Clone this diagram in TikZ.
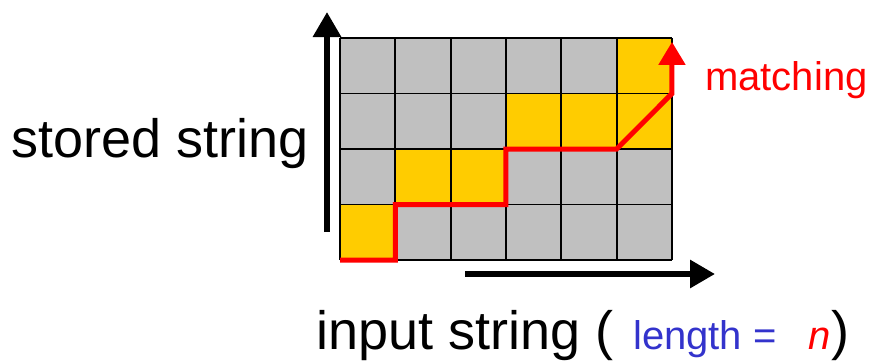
\documentclass[tikz,border=0pt]{standalone}
\usepackage{fontspec}
\setmainfont{Liberation Sans}
\usetikzlibrary{arrows.meta}

\definecolor{cellgray}{HTML}{C0C0C0}
\definecolor{cellyellow}{HTML}{FFCC00}
\definecolor{lenblue}{HTML}{3333CC}

\begin{document}
\begin{tikzpicture}[x=1pt, y=-1pt,
    txt/.style={inner sep=0pt, anchor=base west},
    axis/.style={line width=6pt, -{Triangle[width=27pt,length=25pt]}}]
	\useasboundingbox (0,0) rectangle (870,360);

	% table of cells, (0,0) is the lower left corner
	\begin{scope}[shift={(340,260)}, x=55.33pt, y=55.5pt]
		\fill [cellgray] (0,0) rectangle (6,4);
		\foreach \c/\r in {0/0, 1/1, 2/1, 3/2, 4/2, 5/2, 5/3}
			\fill [cellyellow] (\c,\r) rectangle ++(1,1);
		\foreach \c in {0,...,6}
			\draw [line width=1.8pt] (\c,0) -- (\c,4);
		\foreach \r in {0,...,4}
			\draw [line width=1.8pt] (0,\r) -- (6,\r);

		% matching path
		\draw [red, line width=5pt, -{Triangle[width=26pt,length=23pt]}]
		(0,0) -- (1,0) -- (1,1) -- (3,1) -- (3,2) -- (5,2) -- (6,3) -- (6,3.93);
	\end{scope}

	% axes
	\coordinate (ybot) at (327,232);
	\coordinate (ytop) at (327,12);
	\draw [axis] (ybot) -- (ytop);

	\coordinate (xleft) at (465,274);
	\coordinate (xright) at (715,274);
	\draw [axis] (xleft) -- (xright);

	% labels
	\node [txt] (stored) at (11,157) {\fontsize{54pt}{60pt}\selectfont stored string};
	\node [txt, red] (match) at (705,90) {\fontsize{40pt}{46pt}\selectfont matching};

	\node [txt] (input) at (316,349) {\fontsize{54pt}{60pt}\selectfont input string (};
	\node [txt, lenblue] (len) at (633,349) {\fontsize{40pt}{46pt}\selectfont length =};
	\node [txt, red] (n) at (808,349) {\fontsize{40pt}{46pt}\selectfont\itshape n};
	\node [txt] (close) at (831,349) {\fontsize{54pt}{60pt}\selectfont )};
\end{tikzpicture}
\end{document}
